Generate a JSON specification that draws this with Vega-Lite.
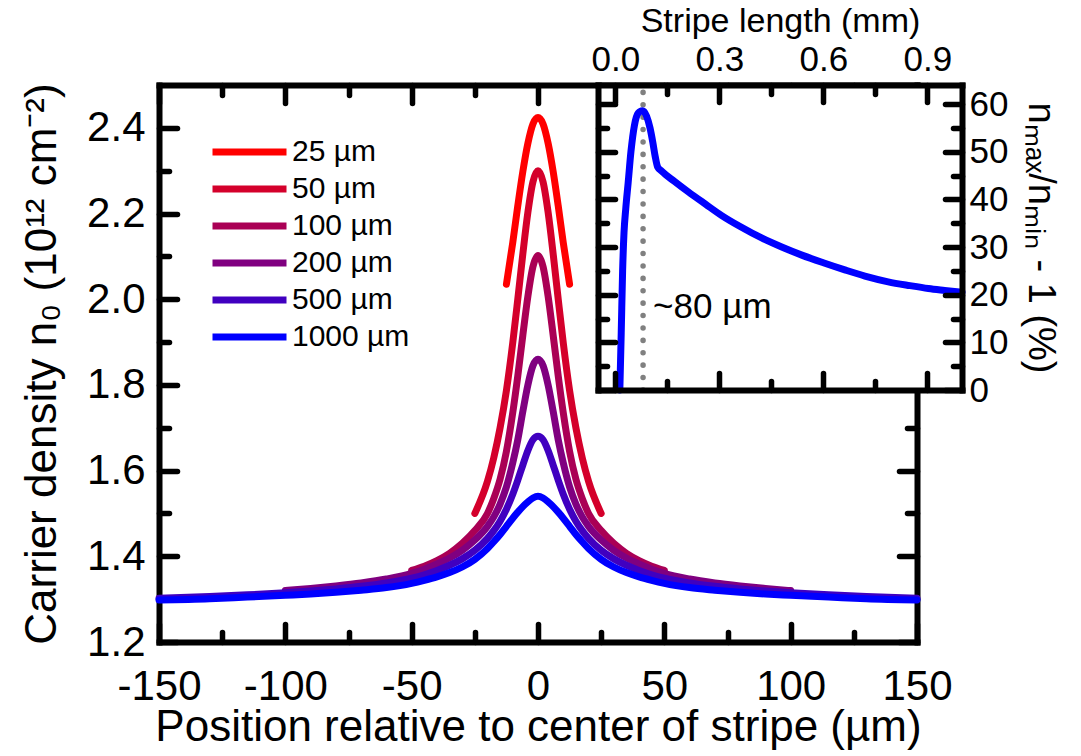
{
  "$schema": "https://vega.github.io/schema/vega-lite/v6.json",
  "width": 758,
  "height": 557,
  "autosize": "none",
  "padding": {"left": 159, "top": 85, "right": 164, "bottom": 114},
  "background": "white",
  "config": {
    "view": {"stroke": null},
    "font": "Liberation Sans",
    "axis": {
      "domainColor": "black", "domainWidth": 6, "domainCap": "square",
      "tickColor": "black", "tickWidth": 5.5, "tickCap": "round",
      "labelColor": "black", "titleColor": "black", "titleFontWeight": "normal",
      "grid": false, "labelOverlap": false, "labelFlush": false, "labelBound": false
    }
  },
  "datasets": {
    "curves": [
      {"s": "25 µm", "x": -12.5, "n": 2.035}, {"s": "25 µm", "x": -10, "n": 2.132}, {"s": "25 µm", "x": -8, "n": 2.218}, {"s": "25 µm", "x": -6, "n": 2.298}, {"s": "25 µm", "x": -4, "n": 2.364}, {"s": "25 µm", "x": -2, "n": 2.409}, {"s": "25 µm", "x": 0, "n": 2.424}, {"s": "25 µm", "x": 2, "n": 2.409}, {"s": "25 µm", "x": 4, "n": 2.364}, {"s": "25 µm", "x": 6, "n": 2.298}, {"s": "25 µm", "x": 8, "n": 2.218}, {"s": "25 µm", "x": 10, "n": 2.132}, {"s": "25 µm", "x": 12.5, "n": 2.035},

      {"s": "50 µm", "x": -25, "n": 1.500}, {"s": "50 µm", "x": -20, "n": 1.575}, {"s": "50 µm", "x": -17.5, "n": 1.630}, {"s": "50 µm", "x": -15, "n": 1.700}, {"s": "50 µm", "x": -12.5, "n": 1.787}, {"s": "50 µm", "x": -10, "n": 1.898}, {"s": "50 µm", "x": -8, "n": 2.000}, {"s": "50 µm", "x": -6, "n": 2.106}, {"s": "50 µm", "x": -4, "n": 2.203}, {"s": "50 µm", "x": -2, "n": 2.274}, {"s": "50 µm", "x": 0, "n": 2.300}, {"s": "50 µm", "x": 2, "n": 2.274}, {"s": "50 µm", "x": 4, "n": 2.203}, {"s": "50 µm", "x": 6, "n": 2.106}, {"s": "50 µm", "x": 8, "n": 2.000}, {"s": "50 µm", "x": 10, "n": 1.898}, {"s": "50 µm", "x": 12.5, "n": 1.787}, {"s": "50 µm", "x": 15, "n": 1.700}, {"s": "50 µm", "x": 17.5, "n": 1.630}, {"s": "50 µm", "x": 20, "n": 1.575}, {"s": "50 µm", "x": 25, "n": 1.500},

      {"s": "100 µm", "x": -50, "n": 1.367}, {"s": "100 µm", "x": -45, "n": 1.377}, {"s": "100 µm", "x": -40, "n": 1.390}, {"s": "100 µm", "x": -35, "n": 1.407}, {"s": "100 µm", "x": -30, "n": 1.430}, {"s": "100 µm", "x": -25, "n": 1.460}, {"s": "100 µm", "x": -20, "n": 1.500}, {"s": "100 µm", "x": -17.5, "n": 1.535}, {"s": "100 µm", "x": -15, "n": 1.580}, {"s": "100 µm", "x": -12.5, "n": 1.645}, {"s": "100 µm", "x": -10, "n": 1.735}, {"s": "100 µm", "x": -8, "n": 1.821}, {"s": "100 µm", "x": -6, "n": 1.916}, {"s": "100 µm", "x": -4, "n": 2.007}, {"s": "100 µm", "x": -2, "n": 2.076}, {"s": "100 µm", "x": 0, "n": 2.102}, {"s": "100 µm", "x": 2, "n": 2.076}, {"s": "100 µm", "x": 4, "n": 2.007}, {"s": "100 µm", "x": 6, "n": 1.916}, {"s": "100 µm", "x": 8, "n": 1.821}, {"s": "100 µm", "x": 10, "n": 1.735}, {"s": "100 µm", "x": 12.5, "n": 1.645}, {"s": "100 µm", "x": 15, "n": 1.580}, {"s": "100 µm", "x": 17.5, "n": 1.535}, {"s": "100 µm", "x": 20, "n": 1.500}, {"s": "100 µm", "x": 25, "n": 1.460}, {"s": "100 µm", "x": 30, "n": 1.430}, {"s": "100 µm", "x": 35, "n": 1.407}, {"s": "100 µm", "x": 40, "n": 1.390}, {"s": "100 µm", "x": 45, "n": 1.377}, {"s": "100 µm", "x": 50, "n": 1.367},

      {"s": "200 µm", "x": -100, "n": 1.320}, {"s": "200 µm", "x": -90, "n": 1.325}, {"s": "200 µm", "x": -80, "n": 1.331}, {"s": "200 µm", "x": -70, "n": 1.338}, {"s": "200 µm", "x": -60, "n": 1.347}, {"s": "200 µm", "x": -50, "n": 1.360}, {"s": "200 µm", "x": -45, "n": 1.370}, {"s": "200 µm", "x": -40, "n": 1.382}, {"s": "200 µm", "x": -35, "n": 1.396}, {"s": "200 µm", "x": -30, "n": 1.414}, {"s": "200 µm", "x": -25, "n": 1.438}, {"s": "200 µm", "x": -20, "n": 1.470}, {"s": "200 µm", "x": -17.5, "n": 1.492}, {"s": "200 µm", "x": -15, "n": 1.522}, {"s": "200 µm", "x": -12.5, "n": 1.562}, {"s": "200 µm", "x": -10, "n": 1.618}, {"s": "200 µm", "x": -8, "n": 1.672}, {"s": "200 µm", "x": -6, "n": 1.738}, {"s": "200 µm", "x": -4, "n": 1.800}, {"s": "200 µm", "x": -2, "n": 1.845}, {"s": "200 µm", "x": 0, "n": 1.860}, {"s": "200 µm", "x": 2, "n": 1.845}, {"s": "200 µm", "x": 4, "n": 1.800}, {"s": "200 µm", "x": 6, "n": 1.738}, {"s": "200 µm", "x": 8, "n": 1.672}, {"s": "200 µm", "x": 10, "n": 1.618}, {"s": "200 µm", "x": 12.5, "n": 1.562}, {"s": "200 µm", "x": 15, "n": 1.522}, {"s": "200 µm", "x": 17.5, "n": 1.492}, {"s": "200 µm", "x": 20, "n": 1.470}, {"s": "200 µm", "x": 25, "n": 1.438}, {"s": "200 µm", "x": 30, "n": 1.414}, {"s": "200 µm", "x": 35, "n": 1.396}, {"s": "200 µm", "x": 40, "n": 1.382}, {"s": "200 µm", "x": 45, "n": 1.370}, {"s": "200 µm", "x": 50, "n": 1.360}, {"s": "200 µm", "x": 60, "n": 1.347}, {"s": "200 µm", "x": 70, "n": 1.338}, {"s": "200 µm", "x": 80, "n": 1.331}, {"s": "200 µm", "x": 90, "n": 1.325}, {"s": "200 µm", "x": 100, "n": 1.320},

      {"s": "500 µm", "x": -150, "n": 1.302}, {"s": "500 µm", "x": -130, "n": 1.306}, {"s": "500 µm", "x": -115, "n": 1.310}, {"s": "500 µm", "x": -100, "n": 1.315}, {"s": "500 µm", "x": -90, "n": 1.319}, {"s": "500 µm", "x": -80, "n": 1.324}, {"s": "500 µm", "x": -70, "n": 1.330}, {"s": "500 µm", "x": -60, "n": 1.338}, {"s": "500 µm", "x": -50, "n": 1.349}, {"s": "500 µm", "x": -45, "n": 1.357}, {"s": "500 µm", "x": -40, "n": 1.367}, {"s": "500 µm", "x": -35, "n": 1.379}, {"s": "500 µm", "x": -30, "n": 1.394}, {"s": "500 µm", "x": -25, "n": 1.414}, {"s": "500 µm", "x": -20, "n": 1.442}, {"s": "500 µm", "x": -17.5, "n": 1.460}, {"s": "500 µm", "x": -15, "n": 1.482}, {"s": "500 µm", "x": -12.5, "n": 1.510}, {"s": "500 µm", "x": -10, "n": 1.545}, {"s": "500 µm", "x": -8, "n": 1.578}, {"s": "500 µm", "x": -6, "n": 1.613}, {"s": "500 µm", "x": -4, "n": 1.647}, {"s": "500 µm", "x": -2, "n": 1.672}, {"s": "500 µm", "x": 0, "n": 1.680}, {"s": "500 µm", "x": 2, "n": 1.672}, {"s": "500 µm", "x": 4, "n": 1.647}, {"s": "500 µm", "x": 6, "n": 1.613}, {"s": "500 µm", "x": 8, "n": 1.578}, {"s": "500 µm", "x": 10, "n": 1.545}, {"s": "500 µm", "x": 12.5, "n": 1.510}, {"s": "500 µm", "x": 15, "n": 1.482}, {"s": "500 µm", "x": 17.5, "n": 1.460}, {"s": "500 µm", "x": 20, "n": 1.442}, {"s": "500 µm", "x": 25, "n": 1.414}, {"s": "500 µm", "x": 30, "n": 1.394}, {"s": "500 µm", "x": 35, "n": 1.379}, {"s": "500 µm", "x": 40, "n": 1.367}, {"s": "500 µm", "x": 45, "n": 1.357}, {"s": "500 µm", "x": 50, "n": 1.349}, {"s": "500 µm", "x": 60, "n": 1.338}, {"s": "500 µm", "x": 70, "n": 1.330}, {"s": "500 µm", "x": 80, "n": 1.324}, {"s": "500 µm", "x": 90, "n": 1.319}, {"s": "500 µm", "x": 100, "n": 1.315}, {"s": "500 µm", "x": 115, "n": 1.310}, {"s": "500 µm", "x": 130, "n": 1.306}, {"s": "500 µm", "x": 150, "n": 1.302},

      {"s": "1000 µm", "x": -150, "n": 1.298}, {"s": "1000 µm", "x": -130, "n": 1.301}, {"s": "1000 µm", "x": -115, "n": 1.305}, {"s": "1000 µm", "x": -100, "n": 1.309}, {"s": "1000 µm", "x": -90, "n": 1.312}, {"s": "1000 µm", "x": -80, "n": 1.316}, {"s": "1000 µm", "x": -70, "n": 1.321}, {"s": "1000 µm", "x": -60, "n": 1.327}, {"s": "1000 µm", "x": -50, "n": 1.337}, {"s": "1000 µm", "x": -45, "n": 1.344}, {"s": "1000 µm", "x": -40, "n": 1.352}, {"s": "1000 µm", "x": -35, "n": 1.362}, {"s": "1000 µm", "x": -30, "n": 1.375}, {"s": "1000 µm", "x": -25, "n": 1.393}, {"s": "1000 µm", "x": -20, "n": 1.418}, {"s": "1000 µm", "x": -17.5, "n": 1.434}, {"s": "1000 µm", "x": -15, "n": 1.451}, {"s": "1000 µm", "x": -12.5, "n": 1.470}, {"s": "1000 µm", "x": -10, "n": 1.489}, {"s": "1000 µm", "x": -8, "n": 1.503}, {"s": "1000 µm", "x": -6, "n": 1.516}, {"s": "1000 µm", "x": -4, "n": 1.527}, {"s": "1000 µm", "x": -2, "n": 1.536}, {"s": "1000 µm", "x": 0, "n": 1.540}, {"s": "1000 µm", "x": 2, "n": 1.536}, {"s": "1000 µm", "x": 4, "n": 1.527}, {"s": "1000 µm", "x": 6, "n": 1.516}, {"s": "1000 µm", "x": 8, "n": 1.503}, {"s": "1000 µm", "x": 10, "n": 1.489}, {"s": "1000 µm", "x": 12.5, "n": 1.470}, {"s": "1000 µm", "x": 15, "n": 1.451}, {"s": "1000 µm", "x": 17.5, "n": 1.434}, {"s": "1000 µm", "x": 20, "n": 1.418}, {"s": "1000 µm", "x": 25, "n": 1.393}, {"s": "1000 µm", "x": 30, "n": 1.375}, {"s": "1000 µm", "x": 35, "n": 1.362}, {"s": "1000 µm", "x": 40, "n": 1.352}, {"s": "1000 µm", "x": 45, "n": 1.344}, {"s": "1000 µm", "x": 50, "n": 1.337}, {"s": "1000 µm", "x": 60, "n": 1.327}, {"s": "1000 µm", "x": 70, "n": 1.321}, {"s": "1000 µm", "x": 80, "n": 1.316}, {"s": "1000 µm", "x": 90, "n": 1.312}, {"s": "1000 µm", "x": 100, "n": 1.309}, {"s": "1000 µm", "x": 115, "n": 1.305}, {"s": "1000 µm", "x": 130, "n": 1.301}, {"s": "1000 µm", "x": 150, "n": 1.298}
    ],
    "inset": [
      {"mm": 0.013, "pct": 0}, {"mm": 0.017, "pct": 12}, {"mm": 0.021, "pct": 25}, {"mm": 0.025, "pct": 33}, {"mm": 0.030, "pct": 38}, {"mm": 0.037, "pct": 43.5}, {"mm": 0.045, "pct": 50}, {"mm": 0.055, "pct": 55.5}, {"mm": 0.066, "pct": 58.1}, {"mm": 0.078, "pct": 58.6}, {"mm": 0.090, "pct": 57.5}, {"mm": 0.100, "pct": 55}, {"mm": 0.108, "pct": 52}, {"mm": 0.115, "pct": 49}, {"mm": 0.122, "pct": 46.8}, {"mm": 0.134, "pct": 45.9}, {"mm": 0.17, "pct": 43.8}, {"mm": 0.21, "pct": 41.6}, {"mm": 0.26, "pct": 39}, {"mm": 0.307, "pct": 36.6}, {"mm": 0.36, "pct": 34.3}, {"mm": 0.422, "pct": 31.9}, {"mm": 0.48, "pct": 30}, {"mm": 0.538, "pct": 28.3}, {"mm": 0.60, "pct": 26.7}, {"mm": 0.662, "pct": 25.2}, {"mm": 0.72, "pct": 23.9}, {"mm": 0.787, "pct": 22.7}, {"mm": 0.85, "pct": 21.9}, {"mm": 0.903, "pct": 21.3}, {"mm": 0.95, "pct": 20.9}, {"mm": 1.0, "pct": 20.5}
    ]
  },
  "resolve": {"scale": {"x": "independent", "y": "independent"}, "axis": {"x": "independent", "y": "independent"}},
  "layer": [
    {
      "data": {"name": "curves"},
      "transform": [{"filter": {"field": "s", "oneOf": ["25 µm", "50 µm", "100 µm", "200 µm"]}}],
      "mark": {"type": "line", "strokeWidth": 7, "interpolate": "monotone", "strokeCap": "round"},
      "encoding": {
        "x": {"field": "x", "type": "quantitative",
          "scale": {"domain": [-150, 150], "nice": false, "zero": false},
          "axis": {"orient": "bottom", "values": [-150, -125, -100, -75, -50, -25, 0, 25, 50, 75, 100, 125, 150],
            "labelExpr": "datum.value % 50 === 0 ? (datum.value < 0 ? '-' + abs(datum.value) : '' + datum.value) : ''",
            "tickSize": {"condition": {"test": "datum.value % 50 === 0", "value": -18}, "value": -10},
            "labelFontSize": 42, "labelPadding": 42,
            "title": "Position relative to center of stripe (µm)", "titleFontSize": 44, "titlePadding": -10, "zindex": 0}},
        "y": {"field": "n", "type": "quantitative",
          "scale": {"domain": [1.2, 2.5], "nice": false, "zero": false},
          "axis": {"orient": "left", "values": [1.2, 1.3, 1.4, 1.5, 1.6, 1.7, 1.8, 1.9, 2.0, 2.1, 2.2, 2.3, 2.4],
            "labelExpr": "round(datum.value * 10) % 2 === 0 ? format(datum.value, '.1f') : ''",
            "tickSize": {"condition": {"test": "round(datum.value * 10) % 2 === 0", "value": -18}, "value": -10},
            "labelFontSize": 42, "labelPadding": 32,
            "title": "Carrier density n₀ (10¹² cm⁻²)", "titleFontSize": 44, "titlePadding": 22, "zindex": 0}},
        "color": {"field": "s", "type": "nominal",
          "scale": {"domain": ["25 µm", "50 µm", "100 µm", "200 µm", "500 µm", "1000 µm"], "range": ["#FF0000", "#D4002B", "#AA0055", "#800080", "#4000C0", "#0000FF"]},
          "legend": {"orient": "none", "legendX": 50, "legendY": 52, "title": null, "symbolType": "stroke", "symbolSize": 5476, "symbolStrokeWidth": 7, "clipHeight": 30, "labelFontSize": 30, "labelColor": "black", "labelOffset": 2, "rowPadding": 7, "padding": 0, "labelLimit": 300}}
      }
    },
    {
      "data": {"name": "curves"},
      "transform": [{"filter": {"field": "s", "oneOf": ["500 µm", "1000 µm"]}}],
      "mark": {"type": "line", "strokeWidth": 7, "interpolate": "monotone", "strokeCap": "round"},
      "encoding": {
        "x": {"field": "x", "type": "quantitative",
          "scale": {"domain": [-150, 150], "nice": false, "zero": false},
          "axis": {"orient": "top", "values": [-150, -125, -100, -75, -50, -25, 0, 25, 50, 75, 100, 125, 150],
            "labels": false, "title": null,
            "tickSize": {"condition": {"test": "datum.value % 50 === 0", "value": -18}, "value": -10}, "zindex": 0}},
        "y": {"field": "n", "type": "quantitative",
          "scale": {"domain": [1.2, 2.5], "nice": false, "zero": false},
          "axis": {"orient": "right", "values": [1.2, 1.3, 1.4, 1.5, 1.6, 1.7, 1.8, 1.9, 2.0, 2.1, 2.2, 2.3, 2.4],
            "labels": false, "title": null,
            "tickSize": {"condition": {"test": "round(datum.value * 10) % 2 === 0", "value": -18}, "value": -10}, "zindex": 0}},
        "color": {"field": "s", "type": "nominal",
          "scale": {"domain": ["25 µm", "50 µm", "100 µm", "200 µm", "500 µm", "1000 µm"], "range": ["#FF0000", "#D4002B", "#AA0055", "#800080", "#4000C0", "#0000FF"]},
          "legend": {"orient": "none", "legendX": 50, "legendY": 52, "title": null, "symbolType": "stroke", "symbolSize": 5476, "symbolStrokeWidth": 7, "clipHeight": 30, "labelFontSize": 30, "labelColor": "black", "labelOffset": 2, "rowPadding": 7, "padding": 0, "labelLimit": 300}}
      }
    },
    {
      "data": {"values": [{}]},
      "layer": [
        {
          "mark": {"type": "rect", "fill": "white"},
          "encoding": {
            "x": {"datum": -0.05, "type": "quantitative",
              "scale": {"domain": [-0.05, 1.0], "range": [439, 803], "nice": false, "zero": false},
              "axis": {"orient": "top", "values": [0, 0.15, 0.3, 0.45, 0.6, 0.75, 0.9],
                "labelExpr": "round(datum.value * 100) % 30 === 0 ? format(datum.value, '.1f') : ''",
                "tickSize": {"condition": {"test": "round(datum.value * 100) % 30 === 0", "value": -17}, "value": -9},
                "labelFontSize": 35, "labelPadding": 25,
                "title": "Stripe length (mm)", "titleFontSize": 34, "titlePadding": -4, "zindex": 1}},
            "x2": {"datum": 1.0},
            "y": {"datum": 0, "type": "quantitative",
              "scale": {"domain": [0, 64], "range": [305, 0], "nice": false, "zero": false},
              "axis": {"orient": "right", "offset": 45, "values": [0, 5, 10, 15, 20, 25, 30, 35, 40, 45, 50, 55, 60],
                "labelExpr": "datum.value % 10 === 0 ? '' + datum.value : ''",
                "tickSize": {"condition": {"test": "datum.value % 10 === 0", "value": -17}, "value": -9},
                "labelFontSize": 35, "labelPadding": 24,
                "title": "nₘₐₓ/nₘᵢₙ - 1 (%)", "titleFontSize": 38, "titlePadding": 13, "zindex": 1}},
            "y2": {"datum": 64}
          }
        },
        {
          "mark": {"type": "rule", "color": "#808080", "strokeWidth": 5.5, "strokeDash": [0.1, 12.3], "strokeCap": "round"},
          "encoding": {
            "x": {"datum": 0.08, "type": "quantitative"},
            "y": {"datum": 0, "type": "quantitative"},
            "y2": {"datum": 64}
          }
        },
        {
          "mark": {"type": "text", "text": "~80 µm", "fontSize": 35, "align": "left", "baseline": "middle", "color": "black"},
          "encoding": {
            "x": {"datum": 0.109, "type": "quantitative"},
            "y": {"datum": 17.4, "type": "quantitative"}
          }
        }
      ]
    },
    {
      "data": {"name": "inset"},
      "mark": {"type": "line", "color": "#0000FF", "strokeWidth": 7, "interpolate": "monotone", "strokeCap": "round"},
      "encoding": {
        "x": {"field": "mm", "type": "quantitative",
          "scale": {"domain": [-0.05, 1.0], "range": [439, 803], "nice": false, "zero": false},
          "axis": {"orient": "bottom", "offset": -252, "values": [0, 0.15, 0.3, 0.45, 0.6, 0.75, 0.9],
            "labels": false, "title": null,
            "tickSize": {"condition": {"test": "round(datum.value * 100) % 30 === 0", "value": -17}, "value": -9}, "zindex": 1}},
        "y": {"field": "pct", "type": "quantitative",
          "scale": {"domain": [0, 64], "range": [305, 0], "nice": false, "zero": false},
          "axis": {"orient": "left", "offset": -439, "values": [0, 5, 10, 15, 20, 25, 30, 35, 40, 45, 50, 55, 60],
            "labels": false, "title": null,
            "tickSize": {"condition": {"test": "datum.value % 10 === 0", "value": -17}, "value": -9}, "zindex": 1}}
      }
    }
  ]
}
